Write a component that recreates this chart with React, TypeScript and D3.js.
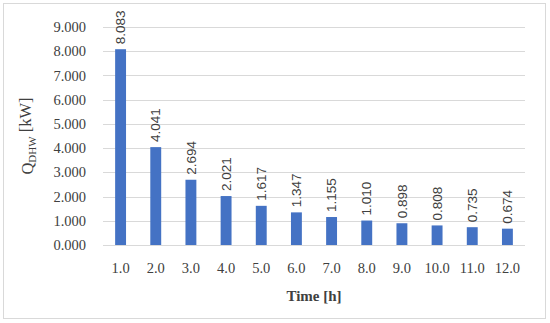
import React, { useEffect, useRef } from "react";
import * as d3 from "d3";

const hours = ["1.0", "2.0", "3.0", "4.0", "5.0", "6.0", "7.0", "8.0", "9.0", "10.0", "11.0", "12.0"];
const qDhw = [8.083, 4.041, 2.694, 2.021, 1.617, 1.347, 1.155, 1.01, 0.898, 0.808, 0.735, 0.674];
const yTicks = [0, 1, 2, 3, 4, 5, 6, 7, 8, 9];

function App() {
  const ref = useRef<SVGSVGElement>(null);

  useEffect(() => {
    const svg = d3.select(ref.current);
    svg.selectAll("*").remove();

    const width = 550;
    const height = 323;
    const margin = { top: 27, right: 25, bottom: 78, left: 103 };
    const textColor = "#404040";
    const serif = "'Liberation Serif', 'DejaVu Serif', serif";
    const sans = "'Liberation Sans', Arial, sans-serif";

    // frame
    svg.append("rect")
      .attr("x", 3.5)
      .attr("y", 3.5)
      .attr("width", 542)
      .attr("height", 315)
      .attr("fill", "#fff")
      .attr("stroke", "#d9d9d9");

    const x = d3.scaleBand()
      .domain(hours)
      .range([margin.left, width - margin.right])
      .paddingInner(0.69)
      .paddingOuter(0.345);

    const y = d3.scaleLinear()
      .domain([0, 9])
      .range([height - margin.bottom, margin.top]);

    // gridlines
    svg.append("g")
      .selectAll("line")
      .data(yTicks)
      .enter()
      .append("line")
      .attr("x1", margin.left)
      .attr("x2", width - margin.right)
      .attr("y1", d => Math.round(y(d)) + 0.5)
      .attr("y2", d => Math.round(y(d)) + 0.5)
      .attr("stroke", "#d9d9d9")
      .attr("stroke-width", 1);

    // y tick labels
    svg.append("g")
      .selectAll("text")
      .data(yTicks)
      .enter()
      .append("text")
      .attr("x", 86)
      .attr("y", d => y(d))
      .attr("dy", "0.35em")
      .attr("text-anchor", "end")
      .attr("font-family", serif)
      .attr("font-size", 14.5)
      .attr("fill", textColor)
      .text(d => d.toFixed(3));

    // bars
    svg.append("g")
      .selectAll("rect")
      .data(qDhw)
      .enter()
      .append("rect")
      .attr("x", (d, i) => x(hours[i]) as number)
      .attr("y", d => y(d))
      .attr("width", x.bandwidth())
      .attr("height", d => y(0) - y(d))
      .attr("fill", "#4472C4");

    // value labels
    svg.append("g")
      .selectAll("text")
      .data(qDhw)
      .enter()
      .append("text")
      .attr("transform", (d, i) => {
        const cx = (x(hours[i]) as number) + x.bandwidth() / 2;
        return `translate(${cx},${y(d) - 5}) rotate(-90)`;
      })
      .attr("dy", "0.35em")
      .attr("text-anchor", "start")
      .attr("font-family", sans)
      .attr("font-size", 13.5)
      .attr("fill", textColor)
      .text(d => d.toFixed(3));

    // x tick labels
    svg.append("g")
      .selectAll("text")
      .data(hours)
      .enter()
      .append("text")
      .attr("x", d => (x(d) as number) + x.bandwidth() / 2)
      .attr("y", 268)
      .attr("dy", "0.35em")
      .attr("text-anchor", "middle")
      .attr("font-family", serif)
      .attr("font-size", 14.5)
      .attr("fill", textColor)
      .text(d => d);

    // axis titles
    svg.append("text")
      .attr("x", (margin.left + width - margin.right) / 2)
      .attr("y", 296)
      .attr("dy", "0.35em")
      .attr("text-anchor", "middle")
      .attr("font-family", serif)
      .attr("font-size", 15)
      .attr("font-weight", "bold")
      .attr("fill", textColor)
      .text("Time [h]");

    const yTitle = svg.append("text")
      .attr("transform", `translate(27,${(margin.top + height - margin.bottom) / 2}) rotate(-90)`)
      .attr("text-anchor", "middle")
      .attr("dy", "0.35em")
      .attr("font-family", serif)
      .attr("font-size", 16.5)
      .attr("fill", textColor);
    yTitle.append("tspan").text("Q");
    yTitle.append("tspan").attr("font-size", 11).attr("dy", "0.3em").text("DHW");
    yTitle.append("tspan").attr("dy", "-0.3em").text(" [kW]");
  }, []);

  return <svg ref={ref} width={550} height={323} style={{ position: "absolute", left: 0, top: 0 }} />;
}

export default App;
